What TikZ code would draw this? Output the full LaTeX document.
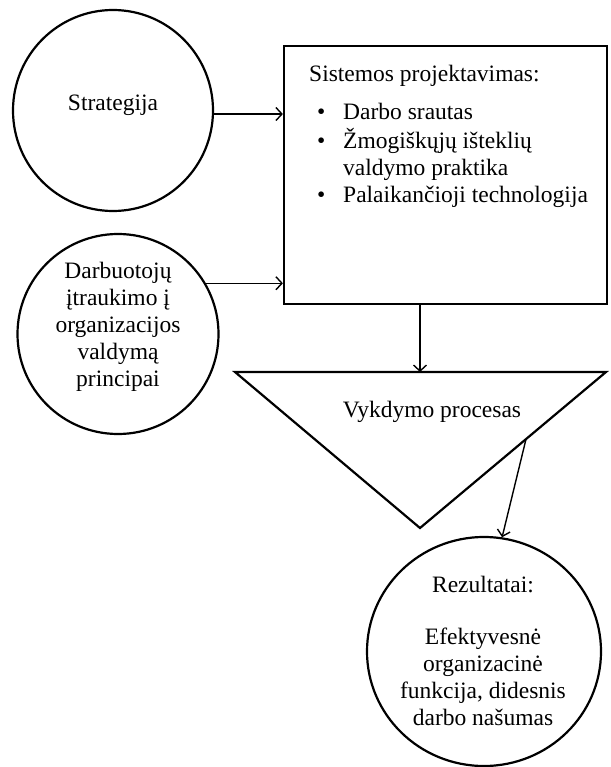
\documentclass[tikz,border=0pt]{standalone}
\usepackage{fontspec}
\setmainfont{Liberation Serif}
\usetikzlibrary{shapes.geometric,arrows.meta,calc}
\begin{document}
\begin{tikzpicture}[x=1pt,y=-1pt,
  shapeline/.style={draw=black,line width=2.2pt},
  roundnode/.style={shapeline,ellipse,inner sep=0pt},
  txt/.style={inner sep=0pt,font=\fontsize{23.5pt}{27pt}\selectfont},
  arr/.style={line width=1.4pt,-{Straight Barb[length=6pt,width=13pt,line width=1.4pt]}}]
\useasboundingbox (0,0) rectangle (610,767);
% shapes
\node[roundnode,minimum width=200pt,minimum height=201pt] (strat) at (113,110.5) {};
\node[roundnode,minimum width=201pt,minimum height=200pt] (dar) at (118,334) {};
\node[roundnode,minimum width=234pt,minimum height=229pt] (res) at (484,651.5) {};
\node[shapeline,rectangle,minimum width=323pt,minimum height=258pt,inner sep=0pt] (box) at (445.5,175) {};
\coordinate (tl) at (235,372);
\coordinate (tr) at (606,372);
\coordinate (tb) at (420,528);
\draw[shapeline,line join=miter] (tl) -- (tr) -- (tb) -- cycle;
% texts
\node[txt] (strattxt) at (113,105) {Strategija};
\node[txt,align=center] (dartxt) at (118,327) {Darbuotojų\\įtraukimo į\\organizacijos\\valdymą\\principai};
\node[txt,anchor=base west] (boxtxt) at (309,82) {\begin{tabular}[t]{@{}l@{}}
Sistemos projektavimas:\\[11pt]
\hspace*{8pt}\makebox[26pt][l]{\textbullet}Darbo srautas\\
\hspace*{8pt}\makebox[26pt][l]{\textbullet}Žmogiškųjų išteklių\\
\hspace*{34pt}valdymo praktika\\
\hspace*{8pt}\makebox[26pt][l]{\textbullet}Palaikančioji technologija
\end{tabular}};
\node[txt] (tritxt) at (432,412) {Vykdymo procesas};
\node[txt,align=center] (restxt) at (483,651) {Rezultatai:\\[25pt]Efektyvesnė\\organizacinė\\funkcija, didesnis\\darbo našumas};
% connectors
\coordinate (tside) at ($(tr)!0.43!(tb)$);
\draw[arr] (strat.-2) -- (strat.-2 -| box.west);
\draw[arr] (dar.30) -- (dar.30 -| box.west);
\draw[arr] (box.south -| tb) -- (tl -| tb);
\draw[arr] (tside) -- (res.81);
\end{tikzpicture}
\end{document}
